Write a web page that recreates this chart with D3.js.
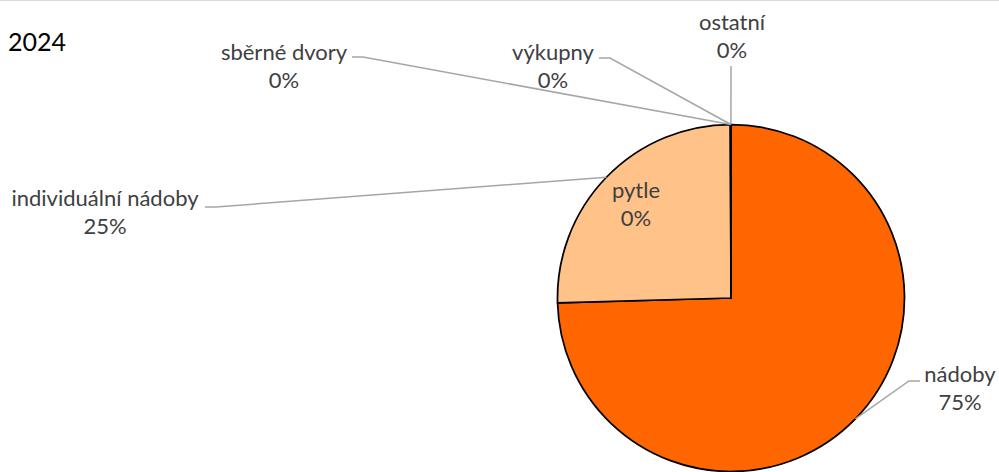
<!DOCTYPE html>
<html>
<head>
<meta charset="utf-8">
<script src="https://cdn.jsdelivr.net/npm/d3@7"></script>
<style>
  html, body { margin: 0; padding: 0; background: #fff; }
  svg { display: block; }
</style>
</head>
<body>
<svg id="chart" width="999" height="472"></svg>
<script>
// ---- data ----
const title = "2024";
const categories = ["nádoby", "individuální nádoby", "pytle", "sběrné dvory", "výkupny", "ostatní"];
const values = [74.55, 25.40, 0.02, 0.01, 0.01, 0.01];
const colors = ["#FF6600", "#FFC389", "#FFD9B3", "#FFA64D", "#FF8C1A", "#CC5200"];

// ---- layout (kept separate from data) ----
const W = 999, H = 472;
const cx = 731, cy = 298, R = 173.5;
// label anchor: [center x, baseline of first line]
const labelPos = [[960, 382], [105, 206], [636, 198], [284, 60], [553, 60], [732, 30]];
// leader-line end near the label: [x, y, elbow direction] (null = no leader)
const leaderEnd = [[920, 381, -1], [205, 207, 1], null, [352, 57, 1], [599, 58, 1], [731, 66, 0]];

const svg = d3.select("#chart");
const font = "Lato, 'Open Sans', sans-serif";

// top border
svg.append("line").attr("x1", 0).attr("x2", W).attr("y1", 0.5).attr("y2", 0.5)
  .attr("stroke", "#D9D9D9").attr("stroke-width", 1);

// title
svg.append("text").attr("x", 8).attr("y", 51).text(title)
  .attr("font-family", font).attr("font-size", 25).attr("fill", "#000");

const total = d3.sum(values);
const data = categories.map((c, i) => ({ name: c, value: values[i], i }));

const pie = d3.pie().value(d => d.value).sort(null);
const arcs = pie(data);
const arc = d3.arc().innerRadius(0).outerRadius(R);

const g = svg.append("g").attr("transform", `translate(${cx},${cy})`);
g.selectAll("path").data(arcs).join("path")
  .attr("d", arc)
  .attr("fill", d => colors[d.data.i])
  .attr("stroke", "#000")
  .attr("stroke-width", 1.75)
  .attr("stroke-linejoin", "round");

// leader lines
arcs.forEach(a => {
  const le = leaderEnd[a.data.i];
  if (!le) return;
  const mid = (a.startAngle + a.endAngle) / 2;
  const sx = cx + R * Math.sin(mid), sy = cy - R * Math.cos(mid);
  let pts;
  if (le[2] === 0) pts = [[le[0], le[1]], [sx, sy]];
  else pts = [[le[0], le[1]], [le[0] + 11 * le[2], le[1]], [sx, sy]];
  svg.append("path").attr("d", d3.line()(pts))
    .attr("fill", "none").attr("stroke", "#A6A6A6").attr("stroke-width", 1.5);
});

// labels
arcs.forEach(a => {
  const [lx, ly] = labelPos[a.data.i];
  const pct = Math.round(a.data.value / total * 100) + "%";
  const t = svg.append("text").attr("text-anchor", "middle")
    .attr("font-family", font).attr("font-size", 22).attr("fill", "#404040");
  t.append("tspan").attr("x", lx).attr("y", ly).text(a.data.name);
  t.append("tspan").attr("x", lx).attr("y", ly + 28).text(pct);
});
</script>
</body>
</html>
